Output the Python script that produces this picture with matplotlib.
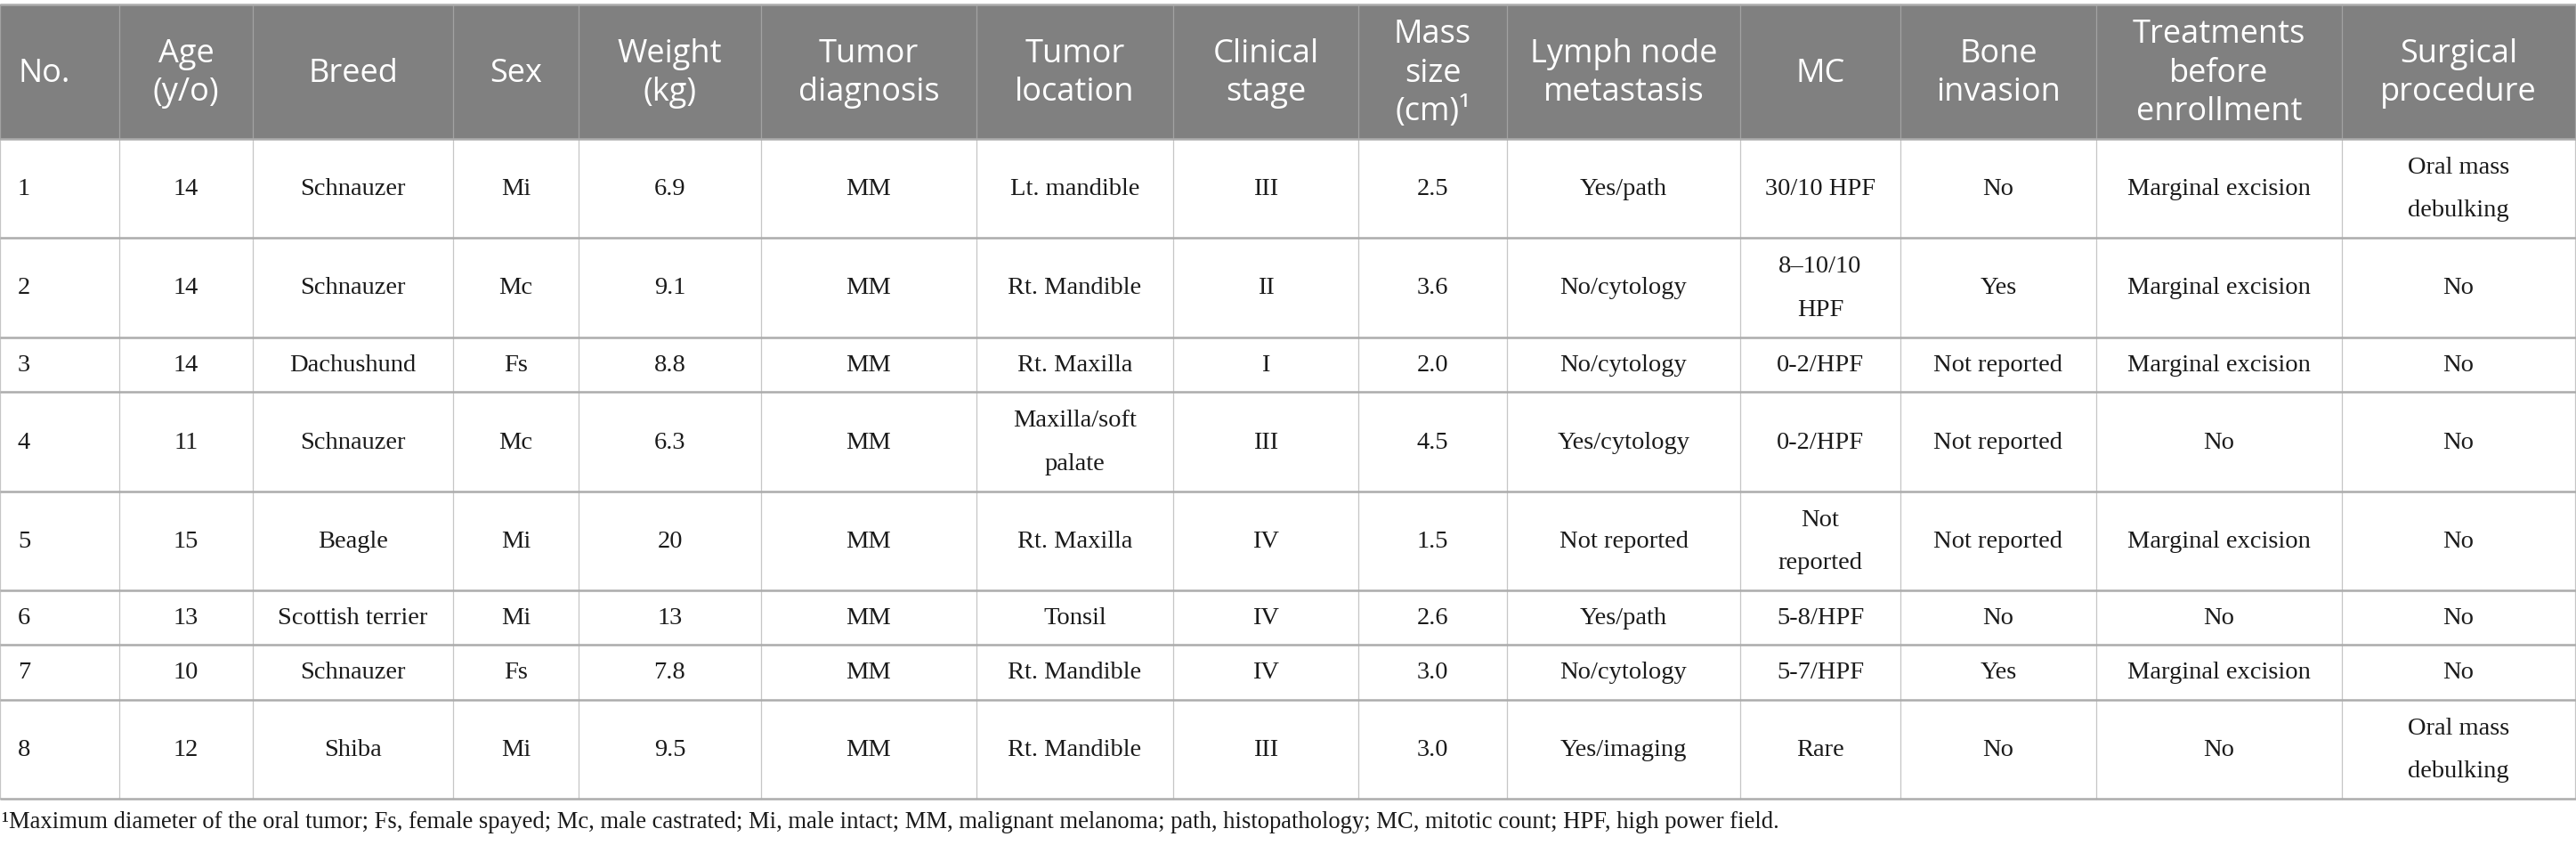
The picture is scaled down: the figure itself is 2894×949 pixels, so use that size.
import matplotlib.pyplot as plt
from matplotlib.patches import Rectangle

# table content
headers = ["No.", "Age\n(y/o)", "Breed", "Sex", "Weight\n(kg)", "Tumor\ndiagnosis",
           "Tumor\nlocation", "Clinical\nstage", "Mass\nsize\n(cm)\u00b9", "Lymph node\nmetastasis",
           "MC", "Bone\ninvasion", "Treatments\nbefore\nenrollment", "Surgical\nprocedure"]
case_no = ["1", "2", "3", "4", "5", "6", "7", "8"]
age = ["14", "14", "14", "11", "15", "13", "10", "12"]
breed = ["Schnauzer", "Schnauzer", "Dachushund", "Schnauzer", "Beagle",
         "Scottish terrier", "Schnauzer", "Shiba"]
sex = ["Mi", "Mc", "Fs", "Mc", "Mi", "Mi", "Fs", "Mi"]
weight = ["6.9", "9.1", "8.8", "6.3", "20", "13", "7.8", "9.5"]
diagnosis = ["MM"] * 8
location = ["Lt. mandible", "Rt. Mandible", "Rt. Maxilla", "Maxilla/soft\npalate",
            "Rt. Maxilla", "Tonsil", "Rt. Mandible", "Rt. Mandible"]
stage = ["III", "II", "I", "III", "IV", "IV", "IV", "III"]
mass_size = ["2.5", "3.6", "2.0", "4.5", "1.5", "2.6", "3.0", "3.0"]
lymph = ["Yes/path", "No/cytology", "No/cytology", "Yes/cytology", "Not reported",
         "Yes/path", "No/cytology", "Yes/imaging"]
mc = ["30/10 HPF", "8\u201310/10\nHPF", "0-2/HPF", "0-2/HPF", "Not\nreported",
      "5-8/HPF", "5-7/HPF", "Rare"]
bone = ["No", "Yes", "Not reported", "Not reported", "Not reported", "No", "Yes", "No"]
treatments = ["Marginal excision", "Marginal excision", "Marginal excision", "No",
              "Marginal excision", "No", "Marginal excision", "No"]
surgery = ["Oral mass\ndebulking", "No", "No", "No", "No", "No", "No",
           "Oral mass\ndebulking"]
footnote = ("\u00b9Maximum diameter of the oral tumor; Fs, female spayed; Mc, male castrated; "
            "Mi, male intact; MM, malignant melanoma; path, histopathology; MC, mitotic count; "
            "HPF, high power field.")

columns = [case_no, age, breed, sex, weight, diagnosis, location, stage, mass_size,
           lymph, mc, bone, treatments, surgery]

# layout in pixels
W, H = 2894, 949
col_edges = [0, 134, 284, 509, 650, 855, 1097, 1318, 1526, 1693, 1955, 2135, 2355, 2631, 2893]
row_edges = [5, 156, 267, 379, 440, 552, 663, 724, 786, 897]

fig = plt.figure(figsize=(W / 100, H / 100), dpi=100)
ax = fig.add_axes([0, 0, 1, 1])
ax.set_xlim(0, W)
ax.set_ylim(H, 0)
ax.axis('off')

# header band
ax.add_patch(Rectangle((0, row_edges[0]), W, row_edges[1] - row_edges[0],
                       facecolor='#808080', edgecolor='none', zorder=0))

head_font = dict(family='Open Sans', size=26, color='white')
body_font = dict(family='Liberation Serif', size=20.5, color='#1a1a1a')

for j, h in enumerate(headers):
    x0, x1 = col_edges[j], col_edges[j + 1]
    yc = (row_edges[0] + row_edges[1]) / 2 + 2
    if j == 0:
        ax.text(x0 + 20, yc, h, ha='left', va='center', linespacing=1.28, **head_font)
    else:
        ax.text((x0 + x1) / 2, yc, h, ha='center', va='center', linespacing=1.28,
                multialignment='center', **head_font)

for j, col in enumerate(columns):
    x0, x1 = col_edges[j], col_edges[j + 1]
    for i, val in enumerate(col):
        yc = (row_edges[i + 1] + row_edges[i + 2]) / 2 + 1
        if j == 0:
            ax.text(x0 + 20, yc, val, ha='left', va='center', linespacing=2.25, **body_font)
        else:
            ax.text((x0 + x1) / 2, yc, val, ha='center', va='center', linespacing=2.25,
                    multialignment='center', **body_font)

# grid lines
for y in row_edges:
    ax.plot([0, W], [y, y], color='#acacac', lw=1.8, solid_capstyle='butt', zorder=3)
for x in col_edges:
    ax.plot([x, x], [row_edges[1], row_edges[-1]], color='#c6c6c6', lw=0.9, zorder=2)
    ax.plot([x, x], [row_edges[0], row_edges[1]], color='#a2a2a2', lw=0.9, zorder=2)

ax.text(2, 924, footnote, ha='left', va='center', family='Liberation Serif',
        size=19.2, color='#1a1a1a')

fig.savefig("out.png", dpi=100)
